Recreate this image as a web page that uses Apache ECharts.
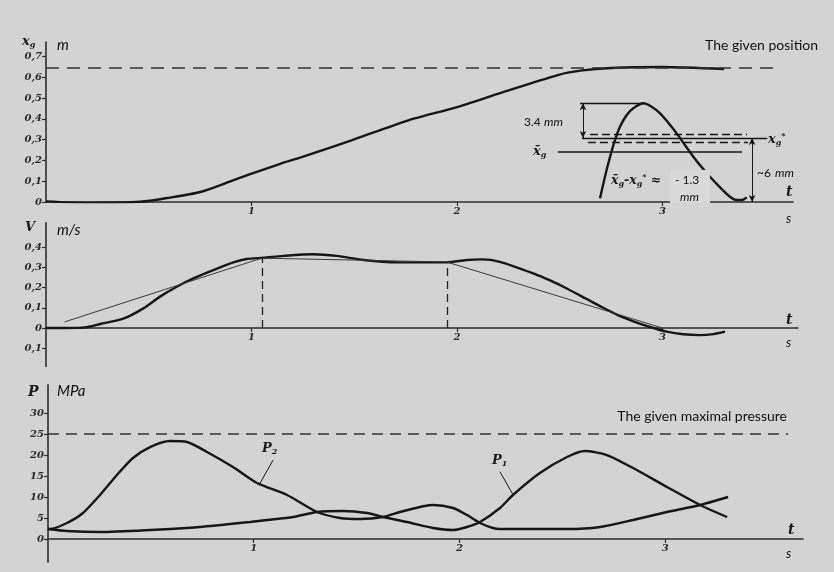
<!DOCTYPE html>
<html>
<head>
<meta charset="utf-8">
<script src="https://cdn.jsdelivr.net/npm/echarts@6/dist/echarts.min.js"></script>
<style>html,body{margin:0;padding:0;background:#d3d3d3;}#c{width:834px;height:572px;}</style>
</head>
<body>
<div id="c"></div>
<script>
// ---------- data ----------
// Panel 1: position x_g (m) vs time t (s)
const posT = [0, 0.2, 0.46, 0.59, 0.75, 0.91, 0.99, 1.14, 1.24, 1.49, 1.76, 2.0, 2.21, 2.49, 2.6, 2.75, 3.0, 3.3];
const posX = [0.003, -0.004, 0.001, 0.019, 0.048, 0.104, 0.133, 0.184, 0.215, 0.298, 0.392, 0.457, 0.524, 0.611, 0.632, 0.645, 0.65, 0.64];
const posTargetT = [0, 3.55];
const posTarget = 0.645;
const posTickValues = [0, 0.1, 0.2, 0.3, 0.4, 0.5, 0.6, 0.7];
const posTickLabels = ['0', '0,1', '0,2', '0,3', '0,4', '0,5', '0,6', '0,7'];

// Inset (magnified overshoot, mm)
const insetT = [2.696, 2.720, 2.745, 2.769, 2.793, 2.826, 2.858, 2.907, 2.947, 2.988, 3.028, 3.069, 3.109, 3.150, 3.191, 3.231, 3.280, 3.328, 3.361, 3.385, 3.410];
const insetMM = [0.36, 2.45, 4.39, 6.01, 7.30, 8.43, 9.08, 9.56, 9.23, 8.59, 7.68, 6.65, 5.52, 4.39, 3.36, 2.45, 1.42, 0.51, 0.19, 0.19, 0.45];
const insetPeak = 9.56, insetStar = 6.2, insetDashHi = 6.59, insetDashLo = 5.81, insetMean = 4.84;

// Panel 2: velocity (m/s)
const velT = [0, 0.10, 0.19, 0.263, 0.376, 0.474, 0.555, 0.636, 0.717, 0.814, 0.912, 0.977, 1.058, 1.155, 1.30, 1.415, 1.544, 1.707, 1.869, 1.95, 2.047, 2.12, 2.209, 2.371, 2.453, 2.534, 2.631, 2.696, 2.777, 2.858, 2.939, 3.02, 3.101, 3.182, 3.247, 3.304];
const velV = [0, 0, 0.003, 0.02, 0.046, 0.097, 0.155, 0.204, 0.245, 0.286, 0.324, 0.341, 0.347, 0.356, 0.364, 0.356, 0.336, 0.324, 0.324, 0.324, 0.336, 0.339, 0.327, 0.270, 0.235, 0.195, 0.143, 0.108, 0.066, 0.033, 0.005, -0.018, -0.031, -0.035, -0.030, -0.018];
const approxT = [0.09, 1.05, 1.95, 3.0];
const approxV = [0.03, 0.345, 0.326, 0];
const velTickValues = [-0.1, 0, 0.1, 0.2, 0.3, 0.4];
const velTickLabels = ['0,1', '0', '0,1', '0,2', '0,3', '0,4'];

// Panel 3: pressures (MPa)
const p2T = [0, 0.01, 0.092, 0.170, 0.253, 0.335, 0.413, 0.496, 0.593, 0.676, 0.773, 0.899, 1.016, 1.162, 1.308, 1.420, 1.517, 1.629, 1.711, 1.872, 1.969, 2.037, 2.100, 2.163, 2.197, 2.358, 2.523, 2.684, 2.844, 3.009, 3.170, 3.306];
const p2V = [2.38, 2.38, 3.81, 6.19, 10.48, 15.24, 19.29, 21.90, 23.33, 23.10, 20.71, 17.14, 13.33, 10.48, 6.43, 5.0, 4.76, 5.24, 6.43, 8.10, 7.38, 5.71, 3.81, 2.62, 2.38, 2.38, 2.38, 2.86, 4.52, 6.43, 8.10, 10.0];
const p1T = [0, 0.092, 0.253, 0.496, 0.739, 0.982, 1.065, 1.191, 1.308, 1.434, 1.551, 1.629, 1.745, 1.872, 1.969, 2.037, 2.100, 2.197, 2.260, 2.391, 2.523, 2.610, 2.717, 2.844, 3.009, 3.170, 3.301];
const p1V = [2.38, 1.90, 1.67, 2.14, 2.86, 4.05, 4.52, 5.24, 6.43, 6.67, 6.19, 5.24, 4.05, 2.62, 2.14, 2.86, 4.05, 7.38, 10.48, 15.71, 19.52, 20.95, 20.0, 16.90, 12.38, 8.10, 5.24];
const pMax = 25;
const pMaxT = [0, 3.597];
const pTickValues = [0, 5, 10, 15, 20, 25, 30];
const pTickLabels = ['0', '5', '10', '15', '20', '25', '30'];

const tTickValues = [1, 2, 3];
const tTickLabels = ['1', '2', '3'];

// ---------- chart ----------
const zip = (a, b) => a.map((v, i) => [v, b[i]]);
const lookup = (vals, labs) => v => { const i = vals.findIndex(x => Math.abs(x - v) < 1e-9); return i < 0 ? '' : labs[i]; };
const INK = '#161616';
const AX = '#2e2e2e';
const tickFont = { fontStyle: 'italic', fontWeight: 'bold', fontFamily: 'DejaVu Serif', fontSize: 10, color: '#2a2a2a' };

function xAx(grid, max, offset) {
  return {
    gridIndex: grid, type: 'value', min: 0, max: max, position: 'bottom', offset: offset,
    axisLine: { onZero: false, lineStyle: { color: AX, width: 1.6 } },
    axisTick: { show: true, customValues: tTickValues, length: 4, lineStyle: { color: AX, width: 1.2 } },
    axisLabel: Object.assign({ customValues: tTickValues, formatter: lookup(tTickValues, tTickLabels), margin: 4 }, tickFont),
    splitLine: { show: false }
  };
}
function yAx(grid, min, max, vals, labs) {
  return {
    gridIndex: grid, type: 'value', min: min, max: max,
    axisLine: { show: true, onZero: false, lineStyle: { color: AX, width: 1.6 } },
    axisTick: { show: true, customValues: vals, length: 4, lineStyle: { color: AX, width: 1.2 } },
    axisLabel: Object.assign({ customValues: vals, formatter: lookup(vals, labs), margin: 4 }, tickFont),
    splitLine: { show: false }
  };
}
const thick = { color: INK, width: 2.4 };
const SM = 0.25;

const option = {
  backgroundColor: '#d3d3d3',
  animation: false,
  grid: [
    { left: 46, top: 42, width: 747, height: 160 },
    { left: 46, top: 222.7, width: 752, height: 143.8 },
    { left: 48, top: 384.9, width: 755, height: 177.2 }
  ],
  xAxis: [xAx(0, 3.635, 0), xAx(1, 3.659, -38.5), xAx(2, 3.670, -23.1)],
  yAxis: [
    yAx(0, 0, 0.77, posTickValues, posTickLabels),
    { gridIndex: 0, type: 'value', min: 0, max: 15.5, show: false },
    yAx(1, -0.19, 0.52, velTickValues, velTickLabels),
    yAx(2, -5.5, 36.7, pTickValues, pTickLabels)
  ],
  series: [
    { type: 'line', xAxisIndex: 0, yAxisIndex: 0, data: zip(posT, posX), smooth: SM, symbol: 'none', lineStyle: thick },
    { type: 'line', xAxisIndex: 0, yAxisIndex: 0, data: posTargetT.map(t => [t, posTarget]), symbol: 'none',
      lineStyle: { color: '#333', width: 1.4, type: [13, 8] } },
    { type: 'line', xAxisIndex: 0, yAxisIndex: 1, data: zip(insetT, insetMM), smooth: 0.3, symbol: 'none', lineStyle: thick,
      markLine: {
        silent: true, symbol: 'none', animation: false, label: { show: false },
        lineStyle: { color: INK, width: 1.4, type: 'solid' },
        data: [
          [{ coord: [2.599, insetPeak] }, { coord: [2.907, insetPeak] }],
          [{ coord: [2.608, insetStar] }, { coord: [3.51, insetStar] }],
          [{ coord: [2.491, insetMean] }, { coord: [3.387, insetMean], lineStyle: { width: 1.6 } }],
          [{ coord: [2.647, insetDashHi], lineStyle: { type: [8, 4], width: 1.3 } }, { coord: [3.411, insetDashHi] }],
          [{ coord: [2.637, insetDashLo], lineStyle: { type: [8, 4], width: 1.3 } }, { coord: [3.416, insetDashLo] }]
        ]
      }
    },
    { type: 'line', xAxisIndex: 0, yAxisIndex: 1, data: [], symbol: 'none',
      markLine: {
        silent: true, symbol: ['arrow', 'arrow'], symbolSize: [5, 7], animation: false, label: { show: false },
        lineStyle: { color: INK, width: 1, type: 'solid' },
        data: [
          [{ coord: [2.613, insetPeak] }, { coord: [2.613, insetStar] }],
          [{ coord: [3.436, insetStar] }, { coord: [3.436, 0] }]
        ]
      }
    },
    { type: 'line', xAxisIndex: 1, yAxisIndex: 2, data: zip(velT, velV), smooth: SM, symbol: 'none', lineStyle: thick },
    { type: 'line', xAxisIndex: 1, yAxisIndex: 2, data: zip(approxT, approxV), symbol: 'none', lineStyle: { color: '#3a3a3a', width: 1 },
      markLine: {
        silent: true, symbol: 'none', animation: false, label: { show: false },
        lineStyle: { color: '#222', width: 1.3, type: [8, 5] },
        data: [
          [{ coord: [approxT[1], 0] }, { coord: [approxT[1], approxV[1]] }],
          [{ coord: [approxT[2], 0] }, { coord: [approxT[2], approxV[2]] }]
        ]
      }
    },
    { type: 'line', xAxisIndex: 2, yAxisIndex: 3, data: zip(p2T, p2V), smooth: SM, symbol: 'none', lineStyle: thick,
      markLine: { silent: true, symbol: 'none', animation: false, label: { show: false }, lineStyle: { color: INK, width: 1, type: 'solid' },
        data: [[{ coord: [1.094, 18.8] }, { coord: [1.031, 13.3] }]] } },
    { type: 'line', xAxisIndex: 2, yAxisIndex: 3, data: zip(p1T, p1V), smooth: SM, symbol: 'none', lineStyle: thick,
      markLine: { silent: true, symbol: 'none', animation: false, label: { show: false }, lineStyle: { color: INK, width: 1, type: 'solid' },
        data: [[{ coord: [2.197, 16.0] }, { coord: [2.261, 10.5] }]] } },
    { type: 'line', xAxisIndex: 2, yAxisIndex: 3, data: pMaxT.map(t => [t, pMax]), symbol: 'none',
      lineStyle: { color: '#333', width: 1.4, type: [11, 7] } }
  ],
  graphic: []
};

// ---------- text annotations ----------
const hand = { fontFamily: 'DejaVu Serif', fontStyle: 'italic', fontWeight: 'bold', fill: '#1a1a1a' };
const uni = { fontFamily: 'Lato', fill: '#111' };
function txt(x, y, text, style, align) {
  option.graphic.push({ type: 'text', x: x, y: y, z: 50,
    style: Object.assign({ text: text, align: align || 'left', verticalAlign: 'middle' }, style) });
}
function richTxt(x, y, text, rich, align) {
  option.graphic.push({ type: 'text', x: x, y: y, z: 50,
    style: { text: text, rich: rich, align: align || 'left', verticalAlign: 'middle' } });
}
const subRich = {
  a: { fontFamily: 'DejaVu Serif', fontStyle: 'italic', fontWeight: 'bold', fontSize: 13, fill: '#1a1a1a' },
  b: { fontFamily: 'DejaVu Serif', fontStyle: 'italic', fontWeight: 'bold', fontSize: 8, fill: '#1a1a1a', padding: [6, 0, 0, 0] },
  c: { fontFamily: 'DejaVu Serif', fontStyle: 'italic', fontWeight: 'bold', fontSize: 8, fill: '#1a1a1a', padding: [0, 0, 8, 0] }
};

// panel 1
richTxt(22, 42, '{a|x}{b|g}', subRich);
txt(57, 45, 'm', Object.assign({ fontSize: 15, fontStyle: 'italic' }, uni));
txt(818, 45, 'The given position', Object.assign({ fontSize: 14 }, uni), 'right');
txt(786, 192, 't', Object.assign({ fontSize: 14 }, hand));
txt(786, 219, 's', Object.assign({ fontSize: 13, fontStyle: 'italic' }, uni));
txt(524, 122, '3.4 ', Object.assign({ fontSize: 12 }, uni));
txt(544, 122, 'mm', Object.assign({ fontSize: 12, fontStyle: 'italic' }, uni));
richTxt(533, 152, '{a|x̄}{b|g}', subRich);
richTxt(768, 140, '{a|x}{b|g}{c|*}', subRich);
txt(757, 173, '~6', Object.assign({ fontSize: 12 }, uni));
txt(775, 173, 'mm', Object.assign({ fontSize: 12, fontStyle: 'italic' }, uni));
option.graphic.push({ type: 'rect', z: 40, shape: { x: 670, y: 170, width: 40, height: 33 }, style: { fill: '#d9d9d9' } });
richTxt(611, 181, '{a|x̄}{b|g}{a|-x}{b|g}{c|*}{a| ≈}', {
  a: { fontFamily: 'DejaVu Serif', fontStyle: 'italic', fontWeight: 'bold', fontSize: 12.5, fill: '#1a1a1a' },
  b: { fontFamily: 'DejaVu Serif', fontStyle: 'italic', fontWeight: 'bold', fontSize: 8, fill: '#1a1a1a', padding: [5, 0, 0, 0] },
  c: { fontFamily: 'DejaVu Serif', fontStyle: 'italic', fontWeight: 'bold', fontSize: 8, fill: '#1a1a1a', padding: [0, 0, 8, 0] }
});
txt(675, 180, '- 1.3', Object.assign({ fontSize: 12 }, uni));
txt(680, 197, 'mm', Object.assign({ fontSize: 12, fontStyle: 'italic' }, uni));

// panel 2
txt(25, 228, 'V', Object.assign({ fontSize: 13 }, hand));
txt(57, 230, 'm/s', Object.assign({ fontSize: 15, fontStyle: 'italic' }, uni));
txt(786, 320, 't', Object.assign({ fontSize: 14 }, hand));
txt(786, 343, 's', Object.assign({ fontSize: 13, fontStyle: 'italic' }, uni));

// panel 3
txt(28, 392, 'P', Object.assign({ fontSize: 14 }, hand));
txt(57, 391, 'MPa', Object.assign({ fontSize: 15, fontStyle: 'italic' }, uni));
txt(787, 416, 'The given maximal pressure', Object.assign({ fontSize: 14 }, uni), 'right');
richTxt(262, 449, '{a|P}{b|2}', subRich);
richTxt(492, 461, '{a|P}{b|1}', subRich);
txt(788, 530, 't', Object.assign({ fontSize: 14 }, hand));
txt(786, 554, 's', Object.assign({ fontSize: 13, fontStyle: 'italic' }, uni));

const chart = echarts.init(document.getElementById('c'), null, { renderer: 'canvas' });
chart.setOption(option);
</script>
</body>
</html>
